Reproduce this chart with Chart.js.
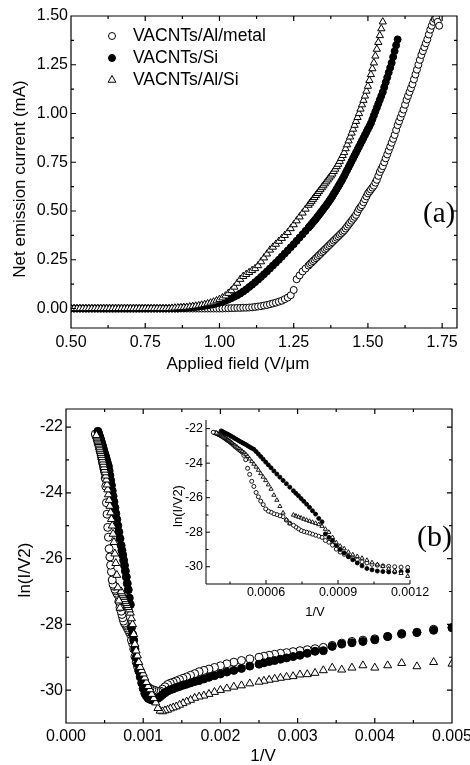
<!DOCTYPE html>
<html>
<head>
<meta charset="utf-8">
<script src="https://cdn.jsdelivr.net/npm/chart.js"></script>
<style>
  html, body { margin: 0; padding: 0; background: #fff; }
  #wrap { position: relative; width: 470px; height: 765px; overflow: hidden; }
  canvas { position: absolute; }
</style>
</head>
<body>
<div id="wrap">
  <canvas id="chartA" width="470" height="385" style="left:0;top:0"></canvas>
  <canvas id="chartB" width="470" height="380" style="left:0;top:385px"></canvas>
  <canvas id="chartInset" width="300" height="215" style="left:130px;top:405px"></canvas>
</div>
<script>
// ---- data ----
const seriesNames = ['VACNTs/Al/metal', 'VACNTs/Si', 'VACNTs/Al/Si'];

// panel (a): net emission current (mA) vs applied field (V/um)
const appliedField = [
  0.50,0.51,0.52,0.53,0.54,0.55,0.56,0.57,0.58,0.59,
  0.60,0.61,0.62,0.63,0.64,0.65,0.66,0.67,0.68,0.69,
  0.70,0.71,0.72,0.73,0.74,0.75,0.76,0.77,0.78,0.79,
  0.80,0.81,0.82,0.83,0.84,0.85,0.86,0.87,0.88,0.89,
  0.90,0.91,0.92,0.93,0.94,0.95,0.96,0.97,0.98,0.99,
  1.00,1.01,1.02,1.03,1.04,1.05,1.06,1.07,1.08,1.09,
  1.10,1.11,1.12,1.13,1.14,1.15,1.16,1.17,1.18,1.19,
  1.20,1.21,1.22,1.23,1.24,1.25,1.26,1.27,1.28,1.29,
  1.300,1.305,1.310,1.315,1.320,1.325,1.330,1.335,1.340,1.345,
  1.350,1.355,1.360,1.365,1.370,1.375,1.380,1.385,1.390,1.395,
  1.400,1.405,1.410,1.415,1.420,1.425,1.430,1.435,1.440,1.445,
  1.450,1.455,1.460,1.465,1.470,1.475,1.480,1.485,1.490,1.495,
  1.500,1.505,1.510,1.515,1.520,1.525,1.530,1.535,1.540,1.545,
  1.550,1.555,1.560,1.565,1.570,1.575,1.580,1.585,1.590,1.595,
  1.600,1.605,1.610,1.615,1.620,1.625,1.630,1.635,1.640,1.645,
  1.650,1.655,1.660,1.665,1.670,1.675,1.680,1.685,1.690,1.695,
  1.700,1.705,1.710,1.715,1.720,1.725,1.730,1.735,1.740
];
const alMetalCurrent = [
  0,0,0,0,0,0,0,0,0,0,
  0,0,0,0,0,0,0,0,0,0,
  0,0,0,0,0,0,0,0,0,0,
  0,0,0,0,0,0,0,0,0,0,
  0,0,0,0,0,0,0,0,0,0,
  0,0,0.001,0.001,0.002,0.002,0.003,0.003,0.004,0.004,
  0.005,0.006,0.008,0.010,0.012,0.015,0.018,0.022,0.026,0.030,
  0.035,0.040,0.048,0.056,0.068,0.095,0.150,0.170,0.190,0.205,
  0.220,0.228,0.235,0.243,0.250,0.258,0.265,0.273,0.280,0.288,
  0.295,0.303,0.310,0.318,0.325,0.333,0.340,0.348,0.355,0.363,
  0.370,0.378,0.385,0.393,0.400,0.410,0.420,0.430,0.440,0.450,
  0.460,0.470,0.480,0.495,0.510,0.520,0.530,0.545,0.560,0.575,
  0.590,0.600,0.610,0.620,0.630,0.645,0.660,0.680,0.700,0.715,
  0.730,0.750,0.770,0.790,0.810,0.830,0.850,0.870,0.890,0.915,
  0.940,0.960,0.980,1.000,1.020,1.045,1.070,1.090,1.110,1.130,
  1.150,1.175,1.200,1.225,1.250,1.275,1.300,1.320,1.340,1.360,
  1.380,1.405,1.430,1.450,1.470,1.485,1.490,1.470,1.450
];
const siCurrent = [
  0,0,0,0,0,0,0,0,0,0,
  0,0,0,0,0,0,0,0,0,0,
  0,0,0,0,0,0,0,0,0,0,
  0,0,0,0,0,0,0,0.002,0.003,0.004,
  0.005,0.007,0.008,0.010,0.012,0.014,0.016,0.019,0.022,0.026,
  0.030,0.035,0.040,0.046,0.053,0.060,0.068,0.077,0.087,0.098,
  0.110,0.122,0.135,0.148,0.162,0.176,0.190,0.205,0.220,0.235,
  0.250,0.266,0.282,0.298,0.314,0.330,0.347,0.364,0.381,0.398,
  0.415,0.424,0.433,0.442,0.451,0.460,0.470,0.480,0.490,0.500,
  0.510,0.520,0.530,0.541,0.552,0.563,0.575,0.588,0.600,0.613,
  0.626,0.639,0.652,0.665,0.680,0.695,0.710,0.725,0.740,0.755,
  0.770,0.785,0.800,0.815,0.830,0.845,0.860,0.875,0.890,0.905,
  0.920,0.935,0.950,0.970,0.990,1.010,1.030,1.050,1.070,1.090,
  1.110,1.135,1.160,1.185,1.210,1.235,1.260,1.290,1.320,1.350,
  1.380,null,null,null,null,null,null,null,null,null,
  null,null,null,null,null,null,null,null,null,null,
  null,null,null,null,null,null,null,null,null
];
const alSiCurrent = [
  0,0,0,0,0,0,0,0,0,0,
  0,0,0,0,0,0,0,0,0,0,
  0,0,0,0,0,0,0,0,0,0,
  0,0,0,0,0.002,0.003,0.004,0.005,0.006,0.007,
  0.009,0.011,0.013,0.015,0.018,0.021,0.025,0.029,0.034,0.040,
  0.047,0.055,0.065,0.078,0.092,0.110,0.130,0.150,0.165,0.175,
  0.185,0.195,0.205,0.220,0.240,0.260,0.280,0.300,0.315,0.330,
  0.345,0.360,0.375,0.390,0.410,0.430,0.450,0.470,0.490,0.510,
  0.530,0.540,0.550,0.560,0.570,0.580,0.590,0.600,0.610,0.620,
  0.630,0.640,0.650,0.660,0.670,0.680,0.690,0.703,0.715,0.728,
  0.740,0.755,0.770,0.785,0.800,0.820,0.840,0.860,0.880,0.900,
  0.920,0.940,0.960,0.980,1.000,1.023,1.045,1.068,1.090,1.115,
  1.140,1.170,1.200,1.230,1.260,1.295,1.330,1.365,1.400,1.435,
  1.470,null,null,null,null,null,null,null,null,null,
  null,null,null,null,null,null,null,null,null,null,
  null,null,null,null,null,null,null,null,null,null,
  null,null,null,null,null,null,null,null,null
];

// panel (b) + inset: ln(I/V^2) vs 1/V, sampled at these voltages (V)
const voltage = [
  200,210,220,230,240,250,260,270,280,290,
  300,310,320,330,340,350,360,370,380,390,
  400,420,440,460,480,500,520,540,560,580,
  600,620,640,660,680,700,720,740,760,780,
  800,820,840,860,880,900,920,940,960,980,
  1000,1020,1040,1060,1080,1100,1120,1140,1160,1180,
  1200,1220,1240,1260,1280,1300,1320,1340,1360,1380,
  1400,1430,1460,1490,1520,1550,1580,1610,1640,1670,
  1700,1730,1760,1790,1820,1850,1880,1910,1940,1970,
  2000,2030,2060,2090,2120,2150,2180,2210,2240,2270,
  2300,2330,2360,2390,2420,2450,2480,2510,2540,2570,
  2600,2630,2660
];
const alMetalLn = [
  -28.10,-28.15,-28.24,-28.30,-28.37,-28.44,-28.48,-28.52,-28.57,-28.64,
  -28.70,-28.74,-28.77,-28.80,-28.83,-28.86,-28.88,-28.91,-28.94,-28.97,
  -29.00,-29.05,-29.10,-29.15,-29.20,-29.26,-29.31,-29.36,-29.40,-29.44,
  -29.50,-29.55,-29.60,-29.64,-29.68,-29.72,-29.76,-29.79,-29.83,-29.90,
  -29.97,-30.03,-30.04,-30.02,-30.00,-29.98,-29.95,-29.91,-29.86,-29.78,
  -29.72,-29.60,-29.50,-29.40,-29.28,-29.15,-28.98,-28.75,-28.58,-28.48,
  -28.30,-28.23,-28.17,-28.11,-28.05,-28.00,-27.96,-27.90,-27.80,-27.70,
  -27.60,-27.48,-27.30,-27.10,-27.05,-26.98,-26.93,-26.84,-26.78,-26.65,
  -26.40,-26.20,-25.95,-25.70,-25.35,-25.05,-24.65,-24.30,-23.80,-23.55,
  -23.36,-23.28,-23.20,-23.12,-23.05,-22.96,-22.88,-22.80,-22.73,-22.68,
  -22.62,-22.56,-22.51,-22.46,-22.42,-22.38,-22.34,-22.31,-22.28,-22.25,
  -22.23,-22.21,null
];
const siLn = [
  -28.10,-28.18,-28.25,-28.28,-28.37,-28.47,-28.52,-28.56,-28.60,-28.67,
  -28.80,-28.82,-28.88,-28.94,-28.98,-29.02,-29.06,-29.10,-29.13,-29.17,
  -29.21,-29.27,-29.34,-29.40,-29.45,-29.51,-29.56,-29.61,-29.66,-29.71,
  -29.74,-29.78,-29.82,-29.85,-29.89,-29.92,-29.96,-29.99,-30.03,-30.08,
  -30.14,-30.20,-30.25,-30.28,-30.30,-30.30,-30.28,-30.25,-30.18,-30.10,
  -29.95,-29.78,-29.60,-29.42,-29.20,-29.00,-28.75,-28.48,-28.30,-28.10,
  -27.40,-27.20,-26.95,-26.76,-26.56,-26.38,-26.21,-26.05,-25.89,-25.75,
  -25.60,-25.39,-25.19,-25.00,-24.81,-24.63,-24.45,-24.27,-24.10,-23.94,
  -23.77,-23.62,-23.47,-23.33,-23.20,-23.13,-23.06,-22.99,-22.92,-22.86,
  -22.80,-22.75,-22.69,-22.63,-22.58,-22.52,-22.47,-22.42,-22.37,-22.33,
  -22.29,-22.25,-22.21,-22.17,-22.13,null,null,null,null,null,
  null,null,null
];
const alSiLn = [
  -29.20,-29.15,-29.28,-29.18,-29.25,-29.32,-29.25,-29.32,-29.38,-29.32,
  -29.40,-29.48,-29.52,-29.53,-29.58,-29.60,-29.63,-29.66,-29.69,-29.72,
  -29.75,-29.80,-29.86,-29.90,-29.95,-30.00,-30.06,-30.12,-30.17,-30.20,
  -30.24,-30.30,-30.35,-30.40,-30.45,-30.50,-30.53,-30.56,-30.60,-30.62,
  -30.65,-30.63,-30.55,-30.38,-30.25,-30.12,-29.98,-29.88,-29.76,-29.62,
  -29.50,-29.40,-29.30,-29.15,-28.95,-28.80,-28.60,-28.30,-28.00,-27.82,
  -27.65,-27.55,-27.48,-27.42,-27.36,-27.30,-27.24,-27.17,-27.12,-27.06,
  -27.00,-27.50,-27.28,-26.88,-26.50,-26.14,-25.85,-25.50,-25.25,-25.00,
  -24.80,-24.60,-24.40,-24.22,-24.05,-23.90,-23.75,-23.60,-23.48,-23.38,
  -23.30,-23.22,-23.14,-23.06,-22.99,-22.92,-22.85,-22.79,-22.73,-22.68,
  -22.62,-22.56,-22.51,-22.46,-22.42,-22.38,-22.33,-22.29,-22.25,null,
  null,null,null
];

// tick positions
const fieldTicks = [0.50, 0.75, 1.00, 1.25, 1.50, 1.75];
const fieldMinor = [0.625, 0.875, 1.125, 1.375, 1.625];
const currentTicks = [0, 0.25, 0.50, 0.75, 1.00, 1.25, 1.50];
const currentMinor = [0.125, 0.375, 0.625, 0.875, 1.125, 1.375];
const invVTicks = [0, 0.001, 0.002, 0.003, 0.004, 0.005];
const invVMinor = [0.0005, 0.0015, 0.0025, 0.0035, 0.0045];
const lnTicks = [-30, -28, -26, -24, -22];
const lnMinor = [-29, -27, -25, -23];
const insetInvVTicks = [0.0006, 0.0009, 0.0012];
const insetInvVMinor = [0.00045, 0.00075, 0.00105];

// ---- helpers ----
const FONT = "Arial, 'Liberation Sans', Helvetica, sans-serif";
const SERIF = "'Times New Roman', 'Liberation Serif', serif";
Chart.defaults.font.family = FONT;
Chart.defaults.color = '#000';

function pairs(xs, ys) {
  const out = [];
  xs.forEach((x, i) => { if (ys[i] !== null) out.push({ x: x, y: ys[i] }); });
  return out;
}
const invV = voltage.map(v => 1 / v);

function drawMarker(ctx, style, x, y, r, fill) {
  ctx.beginPath();
  if (style === 'triangle') {
    ctx.moveTo(x, y - r);
    ctx.lineTo(x + r * 0.866, y + r * 0.5);
    ctx.lineTo(x - r * 0.866, y + r * 0.5);
    ctx.closePath();
  } else {
    ctx.arc(x, y, r, 0, Math.PI * 2);
  }
  ctx.fillStyle = fill;
  ctx.fill();
  ctx.lineWidth = 1;
  ctx.strokeStyle = '#000';
  ctx.stroke();
}

// frame + inward tick marks
const boxTicks = {
  id: 'boxTicks',
  afterDraw(chart, args, o) {
    const { ctx, chartArea: a } = chart;
    const xs = chart.scales.x, ys = chart.scales.y;
    ctx.save();
    ctx.strokeStyle = '#000';
    ctx.lineWidth = o.lineWidth;
    ctx.beginPath();
    if (o.fullBox) {
      ctx.rect(a.left, a.top, a.right - a.left, a.bottom - a.top);
    } else {
      ctx.moveTo(a.left, a.top);
      ctx.lineTo(a.left, a.bottom);
      ctx.lineTo(a.right, a.bottom);
    }
    const markX = (vals, len) => vals.forEach(v => {
      const p = xs.getPixelForValue(v);
      if (p < a.left - 0.5 || p > a.right + 0.5) return;
      ctx.moveTo(p, a.bottom); ctx.lineTo(p, a.bottom - len);
      if (o.fullBox) { ctx.moveTo(p, a.top); ctx.lineTo(p, a.top + len); }
    });
    const markY = (vals, len) => vals.forEach(v => {
      const p = ys.getPixelForValue(v);
      if (p < a.top - 0.5 || p > a.bottom + 0.5) return;
      ctx.moveTo(a.left, p); ctx.lineTo(a.left + len, p);
      if (o.fullBox) { ctx.moveTo(a.right, p); ctx.lineTo(a.right - len, p); }
    });
    markX(o.xMajor, o.major); markX(o.xMinor, o.minor);
    markY(o.yMajor, o.major); markY(o.yMinor, o.minor);
    ctx.stroke();
    ctx.restore();
  }
};

// free text: axis titles and panel letters
const figureText = {
  id: 'figureText',
  afterDraw(chart, args, o) {
    const ctx = chart.ctx;
    (o.items || []).forEach(t => {
      ctx.save();
      ctx.font = t.font;
      ctx.fillStyle = '#000';
      ctx.textAlign = t.align || 'center';
      ctx.textBaseline = 'middle';
      ctx.translate(t.x, t.y);
      if (t.rotate) ctx.rotate(t.rotate);
      ctx.fillText(t.text, 0, 0);
      ctx.restore();
    });
  }
};

// legend inside panel (a)
const markerLegend = {
  id: 'markerLegend',
  afterDraw(chart, args, o) {
    if (!o.rows) return;
    const ctx = chart.ctx;
    o.rows.forEach(r => {
      drawMarker(ctx, r.style, o.markerX, r.y, r.radius, r.fill);
      ctx.save();
      ctx.font = o.font;
      ctx.fillStyle = '#000';
      ctx.textAlign = 'left';
      ctx.textBaseline = 'middle';
      ctx.fillText(r.text, o.textX, r.y);
      ctx.restore();
    });
  }
};

function fixedAxis(size, horizontal) {
  return s => {
    if (horizontal) { s.height = size; s.paddingLeft = 0; s.paddingRight = 0; }
    else { s.width = size; s.paddingTop = 0; s.paddingBottom = 0; }
  };
}

function linearAxis(o) {
  return {
    type: 'linear',
    min: o.min, max: o.max,
    grid: { display: false, drawTicks: false },
    border: { display: false },
    afterBuildTicks: s => { s.ticks = o.ticks.map(v => ({ value: v })); },
    afterFit: fixedAxis(o.size, o.horizontal),
    ticks: {
      color: '#000', autoSkip: false, maxRotation: 0,
      padding: o.pad,
      font: { family: FONT, size: o.fontSize },
      callback: o.format
    }
  };
}

const baseOpts = {
  responsive: false,
  animation: false,
  devicePixelRatio: 1,
  events: []
};

// ---- panel (a) ----
new Chart(document.getElementById('chartA'), {
  type: 'scatter',
  data: {
    datasets: [
      { label: seriesNames[2], data: pairs(appliedField, alSiCurrent), pointStyle: 'triangle',
        pointRadius: 4.2, pointBackgroundColor: '#fff', pointBorderColor: '#000', pointBorderWidth: 1, clip: 0 },
      { label: seriesNames[1], data: pairs(appliedField, siCurrent), pointStyle: 'circle',
        pointRadius: 3.5, pointBackgroundColor: '#000', pointBorderColor: '#000', pointBorderWidth: 1, clip: 0 },
      { label: seriesNames[0], data: pairs(appliedField, alMetalCurrent), pointStyle: 'circle',
        pointRadius: 3.5, pointBackgroundColor: '#fff', pointBorderColor: '#000', pointBorderWidth: 1, clip: 0 }
    ]
  },
  options: Object.assign({}, baseOpts, {
    layout: { padding: { left: 0, top: 16, right: 13, bottom: 0 } },
    scales: {
      x: linearAxis({ min: 0.5, max: 1.8, ticks: fieldTicks, size: 57, horizontal: true, pad: 5, fontSize: 16,
        format: v => v.toFixed(2) }),
      y: linearAxis({ min: -0.1, max: 1.5, ticks: currentTicks, size: 71, horizontal: false, pad: 3, fontSize: 16,
        format: v => v.toFixed(2) })
    },
    plugins: {
      legend: { display: false },
      tooltip: { enabled: false },
      boxTicks: { fullBox: true, lineWidth: 1.2, major: 5, minor: 3,
        xMajor: fieldTicks, xMinor: fieldMinor, yMajor: currentTicks, yMinor: currentMinor },
      figureText: { items: [
        { text: 'Applied field (V/\u03bcm', x: 238, y: 364, font: '17px ' + FONT },
        { text: 'Net emission current (mA)', x: 20, y: 179, rotate: -Math.PI / 2, font: '17px ' + FONT },
        { text: '(a)', x: 423, y: 214, align: 'left', font: '29px ' + SERIF }
      ] },
      markerLegend: { markerX: 112, textX: 133, font: '17.5px ' + FONT, rows: [
        { text: seriesNames[0], y: 36, style: 'circle', radius: 3.5, fill: '#fff' },
        { text: seriesNames[1], y: 58, style: 'circle', radius: 3.5, fill: '#000' },
        { text: seriesNames[2], y: 80, style: 'triangle', radius: 4.5, fill: '#fff' }
      ] }
    }
  }),
  plugins: [boxTicks, figureText, markerLegend]
});

// ---- panel (b) ----
function lnDatasets(radius, triRadius, border) {
  return [
    { label: seriesNames[2], data: pairs(invV, alSiLn), pointStyle: 'triangle',
      pointRadius: triRadius, pointBackgroundColor: '#fff', pointBorderColor: '#000', pointBorderWidth: border, clip: 0 },
    { label: seriesNames[1], data: pairs(invV, siLn), pointStyle: 'circle',
      pointRadius: radius, pointBackgroundColor: '#000', pointBorderColor: '#000', pointBorderWidth: border, clip: 0 },
    { label: seriesNames[0], data: pairs(invV, alMetalLn), pointStyle: 'circle',
      pointRadius: radius, pointBackgroundColor: '#fff', pointBorderColor: '#000', pointBorderWidth: border, clip: 0 }
  ];
}

new Chart(document.getElementById('chartB'), {
  type: 'scatter',
  data: { datasets: lnDatasets(4, 4.6, 1) },
  options: Object.assign({}, baseOpts, {
    layout: { padding: { left: 0, top: 24, right: 18, bottom: 0 } },
    scales: {
      x: linearAxis({ min: 0, max: 0.005, ticks: invVTicks, size: 42, horizontal: true, pad: 4, fontSize: 16,
        format: v => v.toFixed(3) }),
      y: linearAxis({ min: -31, max: -21.45, ticks: lnTicks, size: 66, horizontal: false, pad: 3, fontSize: 16,
        format: v => String(v) })
    },
    plugins: {
      legend: { display: false },
      tooltip: { enabled: false },
      boxTicks: { fullBox: true, lineWidth: 1.2, major: 5, minor: 3,
        xMajor: invVTicks, xMinor: invVMinor, yMajor: lnTicks, yMinor: lnMinor },
      figureText: { items: [
        { text: '1/V', x: 263, y: 371, font: '17px ' + FONT },
        { text: 'ln(I/V2)', x: 25, y: 185, rotate: -Math.PI / 2, font: '17px ' + FONT },
        { text: '(b)', x: 417, y: 153, align: 'left', font: '30px ' + SERIF }
      ] }
    }
  }),
  plugins: [boxTicks, figureText]
});

// ---- inset ----
new Chart(document.getElementById('chartInset'), {
  type: 'scatter',
  data: { datasets: lnDatasets(2, 2.4, 0.9) },
  options: Object.assign({}, baseOpts, {
    layout: { padding: { left: 0, top: 15, right: 20, bottom: 0 } },
    scales: {
      x: linearAxis({ min: 0.00035, max: 0.0012, ticks: insetInvVTicks, size: 36, horizontal: true, pad: 1.5, fontSize: 12.5,
        format: v => v.toFixed(4) }),
      y: linearAxis({ min: -31, max: -21.5, ticks: lnTicks, size: 76, horizontal: false, pad: 3, fontSize: 12.5,
        format: v => String(v) })
    },
    plugins: {
      legend: { display: false },
      tooltip: { enabled: false },
      boxTicks: { fullBox: false, lineWidth: 1, major: 4, minor: 2.5,
        xMajor: insetInvVTicks, xMinor: insetInvVMinor, yMajor: lnTicks, yMinor: lnMinor },
      figureText: { items: [
        { text: '1/V', x: 185, y: 207, font: '13px ' + FONT },
        { text: 'ln(I/V2)', x: 48, y: 101, rotate: -Math.PI / 2, font: '13px ' + FONT }
      ] }
    }
  }),
  plugins: [boxTicks, figureText]
});
</script>
</body>
</html>
